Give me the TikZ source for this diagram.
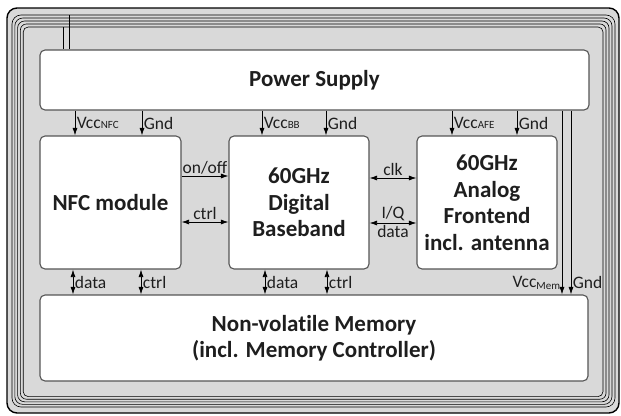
\documentclass[tikz,border=0pt]{standalone}
\usepackage{fontspec}
\setmainfont{Carlito}[Ligatures=NoCommon]
\usetikzlibrary{arrows.meta,calc}
\definecolor{BgClr}{RGB}{217,217,217}
\definecolor{BoxClr}{RGB}{85,85,85}
\definecolor{TxtClr}{RGB}{30,30,30}
\newcommand{\lsub}[1]{{\fontsize{11}{11}\selectfont #1}}

\begin{document}
\begin{tikzpicture}[x=1pt,y=-1pt,
  blk/.style={draw=BoxClr,line width=1.1pt,fill=white,rounded corners=5pt,
    text=TxtClr,font=\fontsize{23}{26.5}\selectfont\bfseries,align=center,inner sep=0pt},
  sig/.style={line width=0.8pt,-{Latex[length=7.5pt,width=5pt]}},
  bisig/.style={line width=0.8pt,{Latex[length=7.5pt,width=5pt]}-{Latex[length=7.5pt,width=5pt]}},
  lbl/.style={font=\fontsize{17.5}{17.5}\selectfont,text=TxtClr,inner sep=1.5pt}]
\useasboundingbox (0,0) rectangle (621,415);

% antenna coil
\filldraw[fill=BgClr,draw=black,line width=1.4pt,rounded corners=10pt] (7,8) rectangle (619,413);
\foreach \k in {0,...,4}{
  \pgfmathsetmacro\rr{9-\k}
  \draw[line width=0.6pt,rounded corners=\rr pt]
    ({12+2.8*\k},{15+3*\k}) rectangle ({615-3*\k},{407-2.6*\k});
}

\node[blk,minimum width=549pt,minimum height=60pt] (ps) at (314.5,80) {Power Supply};
\node[blk,minimum width=141pt,minimum height=133pt] (nfc) at (110.5,202.5) {NFC module};
\node[blk,minimum width=140pt,minimum height=133pt] (bb) at (299,202.5) {60GHz\\Digital\\Baseband};
\node[blk,minimum width=140pt,minimum height=133pt] (afe) at (487,202.5) {60GHz\\Analog\\Frontend\\incl. antenna};
\node[blk,minimum width=548pt,minimum height=86pt] (mem) at (314,338) {Non-volatile Memory\\(incl. Memory Controller)};

\draw[line width=0.6pt] (63,27) -- (63,0 |- ps.north);
\draw[line width=0.6pt] (69,15) -- (69,0 |- ps.north);

\draw[sig] (75,0 |- ps.south) -- (75,0 |- nfc.north) node[lbl,midway,right]{Vcc\lsub{NFC}};
\draw[sig] (142,0 |- ps.south) -- (142,0 |- nfc.north) node[lbl,midway,right]{Gnd};
\draw[sig] (262,0 |- ps.south) -- (262,0 |- bb.north) node[lbl,midway,right]{Vcc\lsub{BB}};
\draw[sig] (326,0 |- ps.south) -- (326,0 |- bb.north) node[lbl,midway,right]{Gnd};
\draw[sig] (452,0 |- ps.south) -- (452,0 |- afe.north) node[lbl,midway,right]{Vcc\lsub{AFE}};
\draw[sig] (517,0 |- ps.south) -- (517,0 |- afe.north) node[lbl,midway,right]{Gnd};

\draw[sig] (nfc.east |- 0,176) -- (bb.west |- 0,176) node[lbl,midway,above]{on/off};
\draw[bisig] (nfc.east |- 0,222) -- (bb.west |- 0,222) node[lbl,midway,above]{ctrl};
\draw[bisig] (bb.east |- 0,178) -- (afe.west |- 0,178) node[lbl,midway,above]{clk};
\draw[bisig] (bb.east |- 0,223) -- (afe.west |- 0,223) node[lbl,midway,above]{I/Q} node[lbl,midway,below]{data};

\draw[bisig] (73,0 |- nfc.south) -- (73,0 |- mem.north) node[lbl,midway,right]{data};
\draw[bisig] (141,0 |- nfc.south) -- (141,0 |- mem.north) node[lbl,midway,right]{ctrl};
\draw[bisig] (265,0 |- bb.south) -- (265,0 |- mem.north) node[lbl,midway,right]{data};
\draw[bisig] (327,0 |- bb.south) -- (327,0 |- mem.north) node[lbl,midway,right]{ctrl};

\draw[sig] (562,0 |- ps.south) -- (562,0 |- mem.north) node[lbl,pos=0.935,left]{Vcc\raisebox{-2pt}{\lsub{Mem}}};
\draw[sig] (571,0 |- ps.south) -- (571,0 |- mem.north) node[lbl,pos=0.935,right]{Gnd};
\end{tikzpicture}
\end{document}
